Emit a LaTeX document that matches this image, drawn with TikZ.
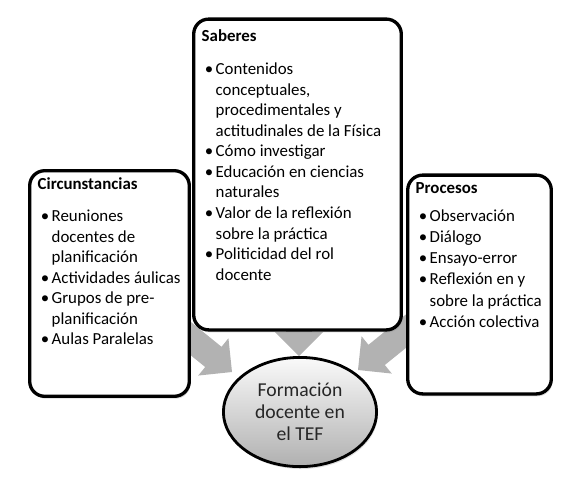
\documentclass[tikz,border=0pt]{standalone}
\usepackage{fontspec}
\setmainfont{Carlito}
\usetikzlibrary{shapes.geometric,shadows}
\definecolor{arrowgray}{gray}{0.7}
\newcommand{\bitem}[1]{\par\hangindent=3.5mm\hangafter=1\noindent\hbox to 3.5mm{\hskip0.8mm\textbullet\hfil}#1}
\newcommand{\boxhead}[3]{\noindent\rule{0pt}{#2}\textbf{#1}\par\vspace{#3}}
\newcommand{\boxbody}[3]{\parbox[c][#2][t]{#1}{\raggedright #3}}
\tikzset{
  infobox/.style={draw=black, line width=0.83mm, rounded corners=3.75mm, fill=white,
    inner xsep=2mm, inner ysep=1mm, font=\fontsize{12}{14.6}\selectfont,
    drop shadow={shadow xshift=0.3mm, shadow yshift=-0.6mm, opacity=0.3}},
  goal/.style={ellipse, draw=black, line width=0.7mm, inner sep=0pt,
    minimum width=38.3mm, minimum height=27.3mm, top color=gray!4, bottom color=gray!62,
    align=center, text=black!85, font=\fontsize{14}{15.6}\selectfont,
    drop shadow={shadow xshift=0.3mm, shadow yshift=-0.6mm, opacity=0.25}}
}
\begin{document}
\begin{tikzpicture}[x=0.25mm, y=-0.25mm]
\useasboundingbox (0,0) rectangle (580,488);
\foreach \tx/\ty/\ang in {232/372/-39, 299/356/-90, 358/370/-141}
  \fill[arrowgray, shift={(\tx,\ty)}, rotate=\ang] (0,0) -- (-24,-24) -- (-24,-13) -- (-90,-13) -- (-90,13) -- (-24,13) -- (-24,24) -- cycle;
\node[infobox] (circ) at (109.5,283.5) {\boxbody{35.9mm}{54.4mm}{%
  \boxhead{Circunstancias}{3.6mm}{3mm}%
  \bitem{Reuniones\newline docentes de\newline planificación}%
  \bitem{Actividades áulicas}%
  \bitem{Grupos de pre-\newline planificación}%
  \bitem{Aulas Paralelas}}};
\node[infobox] (sab) at (297.5,174.5) {\boxbody{47.9mm}{75.7mm}{%
  \boxhead{Saberes}{4.5mm}{3.3mm}%
  \bitem{Contenidos\newline conceptuales,\newline procedimentales y\newline actitudinales de la Física}%
  \bitem{Cómo investigar}%
  \bitem{Educación en ciencias\newline naturales}%
  \bitem{Valor de la reflexión\newline sobre la práctica}%
  \bitem{Politicidad del rol\newline docente}}};
\node[infobox, font=\fontsize{12}{15.1}\selectfont] (proc) at (479.5,284.5) {\boxbody{31.9mm}{52.7mm}{%
  \boxhead{Procesos}{3.6mm}{1.6mm}%
  \bitem{Observación}%
  \bitem{Diálogo}%
  \bitem{Ensayo-error}%
  \bitem{Reflexión en y\newline sobre la práctica}%
  \bitem{Acción colectiva}}};
\node[goal] (tef) at (300,412) {Formación\\docente en\\el TEF};
\end{tikzpicture}
\end{document}
